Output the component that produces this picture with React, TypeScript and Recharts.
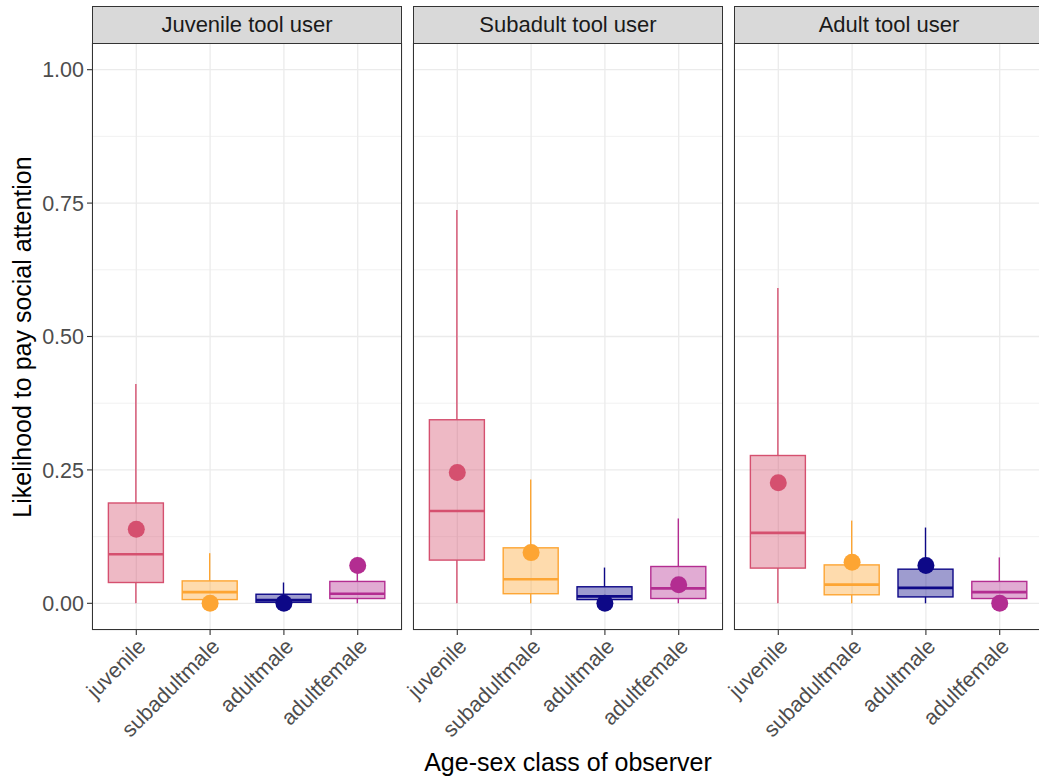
import {
  ComposedChart,
  Bar,
  Scatter,
  XAxis,
  YAxis,
  CartesianGrid,
} from 'recharts'

const categories = ['juvenile', 'subadultmale', 'adultmale', 'adultfemale']
const panelTitles = ['Juvenile tool user', 'Subadult tool user', 'Adult tool user']

// per panel, one value per category (order as in categories)
const whiskerLow = [
  [0, 0, 0, 0],
  [0, 0, 0, 0],
  [0, 0, 0, 0],
]
const q1 = [
  [0.039, 0.007, 0.002, 0.009],
  [0.081, 0.018, 0.007, 0.009],
  [0.066, 0.016, 0.012, 0.009],
]
const median = [
  [0.092, 0.021, 0.006, 0.018],
  [0.173, 0.045, 0.013, 0.028],
  [0.132, 0.035, 0.029, 0.021],
]
const q3 = [
  [0.188, 0.042, 0.017, 0.041],
  [0.344, 0.104, 0.031, 0.069],
  [0.277, 0.072, 0.064, 0.041],
]
const whiskerHigh = [
  [0.411, 0.094, 0.039, 0.087],
  [0.737, 0.232, 0.067, 0.159],
  [0.591, 0.155, 0.142, 0.086],
]
const observed = [
  [0.139, 0.0, 0.0, 0.071],
  [0.245, 0.095, 0.0, 0.035],
  [0.226, 0.077, 0.071, 0.0],
]

const yTicks = [0, 0.25, 0.5, 0.75, 1]
const yMinor = [0.125, 0.375, 0.625, 0.875]

const COLORS: Record<string, string> = {
  juvenile: '#D5506F',
  subadultmale: '#FDA533',
  adultmale: '#0D0887',
  adultfemale: '#B32D91',
}

const FONT = '"Liberation Sans", Arial, Helvetica, sans-serif'
const PANEL_W = 310
const PANEL_LEFT = [92, 413, 734]
const PLOT_TOP = 43
const PLOT_BOTTOM = 630
const SIDE = 40 // extra room left of panels 2 and 3 for rotated labels

function buildRows(p: number) {
  return categories.map((cat, i) => ({
    cat,
    range: [whiskerLow[p][i], whiskerHigh[p][i]],
    low: whiskerLow[p][i],
    q1: q1[p][i],
    median: median[p][i],
    q3: q3[p][i],
    high: whiskerHigh[p][i],
    point: observed[p][i],
  }))
}

// box drawn inside the whisker range bar, using the bar's pixel span
function BoxShape(props: any) {
  const { x, y, width, height, payload } = props
  if (x == null || y == null) return null
  const top = Math.min(y, y + height)
  const bot = Math.max(y, y + height)
  const span = payload.high - payload.low
  const py = (v: number) => bot - ((bot - top) * (v - payload.low)) / span
  const color = COLORS[payload.cat]
  const cx = x + width / 2
  return (
    <g>
      <line x1={cx} x2={cx} y1={py(payload.high)} y2={py(payload.q3)} stroke={color} strokeWidth={1.4} />
      <line x1={cx} x2={cx} y1={py(payload.q1)} y2={py(payload.low)} stroke={color} strokeWidth={1.4} />
      <rect
        x={x}
        y={py(payload.q3)}
        width={width}
        height={Math.max(py(payload.q1) - py(payload.q3), 0.5)}
        fill={color}
        fillOpacity={0.4}
        stroke={color}
        strokeWidth={1.4}
      />
      <line x1={x} x2={x + width} y1={py(payload.median)} y2={py(payload.median)} stroke={color} strokeWidth={2.6} />
    </g>
  )
}

function PointShape(props: any) {
  const { cx, cy, payload } = props
  if (cx == null || cy == null) return null
  return <circle cx={cx} cy={cy} r={8.5} fill={COLORS[payload.cat]} />
}

function XTick(props: any) {
  const { x, y, payload } = props
  return (
    <text
      x={x}
      y={y}
      dy="0.71em"
      transform={`rotate(-45 ${x} ${y})`}
      textAnchor="end"
      fill="#4D4D4D"
      fontSize={21.5}
      fontFamily={FONT}
    >
      {payload.value}
    </text>
  )
}

function Panel({ index }: { index: number }) {
  const first = index === 0
  const rows = buildRows(index)
  const left = first ? 0 : PANEL_LEFT[index] - SIDE
  const width = first ? PANEL_LEFT[0] + PANEL_W + 2 : PANEL_W + SIDE + 2
  return (
    <div style={{ position: 'absolute', left, top: 0 }}>
      <ComposedChart
        width={width}
        height={778}
        data={rows}
        margin={{ top: PLOT_TOP, right: 2, left: first ? 0 : SIDE, bottom: 0 }}
      >
        <CartesianGrid
          stroke="#EBEBEB"
          strokeWidth={0.7}
          vertical={false}
          horizontalValues={yMinor}
        />
        <CartesianGrid stroke="#EBEBEB" strokeWidth={1.3} />
        <XAxis
          dataKey="cat"
          type="category"
          height={778 - PLOT_BOTTOM}
          padding={{ left: PANEL_W / 42, right: PANEL_W / 42 }}
          axisLine={false}
          tickLine={{ stroke: '#333333', strokeWidth: 1.1 }}
          tickSize={5}
          tickMargin={2}
          interval={0}
          tick={<XTick />}
        />
        <YAxis
          hide={!first}
          width={first ? 92 : 0}
          type="number"
          domain={[-0.05, 1.05]}
          allowDataOverflow
          ticks={yTicks}
          tickFormatter={(v: number) => v.toFixed(2)}
          axisLine={false}
          tickLine={{ stroke: '#333333', strokeWidth: 1.1 }}
          tickSize={5}
          tickMargin={3}
          tick={{ fill: '#4D4D4D', fontSize: 21.5, fontFamily: FONT }}
        />
        <Bar dataKey="range" barSize={55} shape={<BoxShape />} isAnimationActive={false} />
        <Scatter dataKey="point" shape={<PointShape />} isAnimationActive={false} />
      </ComposedChart>
    </div>
  )
}

export default function App() {
  return (
    <div
      style={{
        position: 'absolute',
        left: 0,
        top: 0,
        width: 1039,
        height: 778,
        overflow: 'hidden',
        background: '#ffffff',
        fontFamily: FONT,
      }}
    >
      {panelTitles.map((t, i) => (
        <Panel key={t} index={i} />
      ))}

      {/* strips and panel borders */}
      {panelTitles.map((t, i) => (
        <div key={`strip-${t}`}>
          <div
            style={{
              position: 'absolute',
              left: PANEL_LEFT[i],
              top: 6,
              width: PANEL_W,
              height: PLOT_TOP - 6 + 1,
              boxSizing: 'border-box',
              background: '#D9D9D9',
              border: '1px solid #333333',
              color: '#1A1A1A',
              fontSize: 22,
              lineHeight: `${PLOT_TOP - 6 - 1}px`,
              textAlign: 'center',
            }}
          >
            {t}
          </div>
          <div
            style={{
              position: 'absolute',
              left: PANEL_LEFT[i],
              top: PLOT_TOP,
              width: PANEL_W,
              height: PLOT_BOTTOM - PLOT_TOP,
              boxSizing: 'border-box',
              border: '1px solid #333333',
              pointerEvents: 'none',
            }}
          />
        </div>
      ))}

      {/* axis titles */}
      <div
        style={{
          position: 'absolute',
          left: 22 - 300,
          top: (PLOT_TOP + PLOT_BOTTOM) / 2 - 15,
          width: 600,
          height: 30,
          lineHeight: '30px',
          textAlign: 'center',
          fontSize: 25,
          color: '#000000',
          transform: 'rotate(-90deg)',
        }}
      >
        Likelihood to pay social attention
      </div>
      <div
        style={{
          position: 'absolute',
          left: 568 - 300,
          top: 747,
          width: 600,
          height: 30,
          lineHeight: '30px',
          textAlign: 'center',
          fontSize: 25,
          color: '#000000',
        }}
      >
        Age-sex class of observer
      </div>
    </div>
  )
}
